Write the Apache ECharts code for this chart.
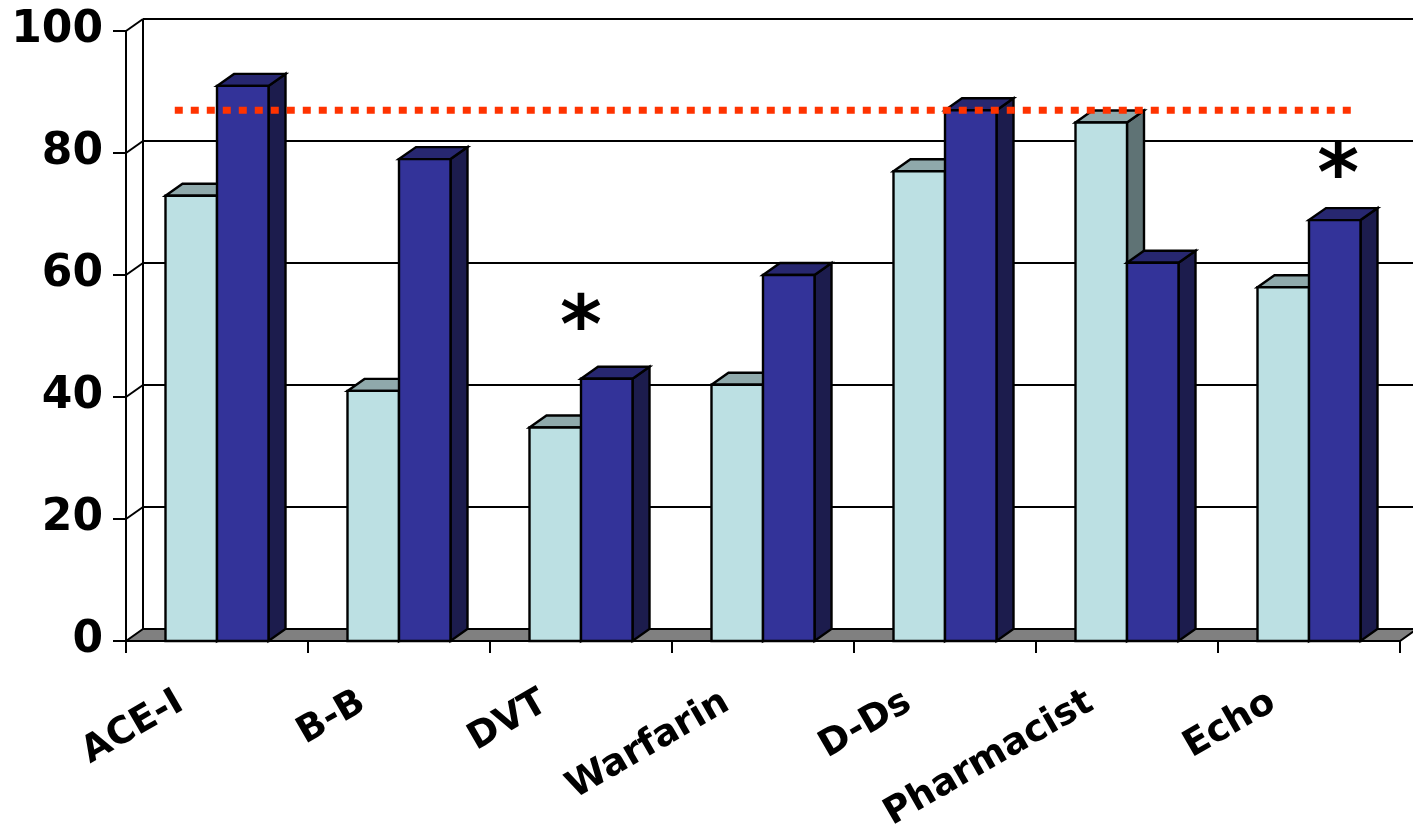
<!DOCTYPE html>
<html>
<head>
<meta charset="utf-8">
<script src="https://cdn.jsdelivr.net/npm/echarts@6/dist/echarts.min.js"></script>
<style>
  html, body { margin: 0; padding: 0; background: #ffffff; }
  #chart { width: 1413px; height: 825px; }
</style>
</head>
<body>
<div id="chart"></div>
<script>
// Categories along the bottom axis
const categories = ['ACE-I', 'B-B', 'DVT', 'Warfarin', 'D-Ds', 'Pharmacist', 'Echo'];
// Percentages, first (light) and second (dark) measurement
const before = [73, 41, 35, 42, 77, 85, 58];
const after = [91, 79, 43, 60, 87, 62, 69];
// Value-axis ticks
const yTicks = [0, 20, 40, 60, 80, 100];
// Dotted reference level
const targetLevel = 87;
// Significance marks: [position in category units, height in %]
const significance = [[2.5, 54], [6.66, 79]];

// Depth of the pseudo-3D projection (pixels)
const DX = 17, DY = 12;
const FONT = 'DejaVu Sans';

const chart = echarts.init(document.getElementById('chart'), null, { renderer: 'canvas' });

function barRenderer(side, colors) {
  return function (params, api) {
    const i = api.value(0);
    const v = api.value(1);
    const base = api.coord([i, 0]);
    const top = api.coord([i, v]);
    const band = api.size([1, 0])[0];
    const w = band * 0.283;
    const x0 = side === 0 ? base[0] - w : base[0];
    const x1 = x0 + w;
    const yb = base[1], yt = top[1];
    const edge = { stroke: '#000000', lineWidth: 2.4, lineJoin: 'miter' };
    return {
      type: 'group',
      children: [
        { type: 'polygon', shape: { points: [[x1, yt], [x1 + DX, yt - DY], [x1 + DX, yb - DY], [x1, yb]] },
          style: Object.assign({ fill: colors.side }, edge) },
        { type: 'polygon', shape: { points: [[x0, yt], [x0 + DX, yt - DY], [x1 + DX, yt - DY], [x1, yt]] },
          style: Object.assign({ fill: colors.top }, edge) },
        { type: 'rect', shape: { x: x0, y: yt, width: w, height: yb - yt },
          style: Object.assign({ fill: colors.front }, edge) }
      ]
    };
  };
}

// Back wall grid lines, left wall edge and floor
function wallRenderer(params, api) {
  const v = api.value(1);
  const cs = params.coordSys;
  const left = cs.x, right = cs.x + cs.width;
  const y = api.coord([0, v])[1];
  const y0 = api.coord([0, 0])[1];
  const line = { stroke: '#000000', lineWidth: 2 };
  const children = [];
  if (v === 0) {
    children.push({ type: 'polygon',
      shape: { points: [[left, y], [left + DX, y - DY], [right + DX, y - DY], [right, y]] },
      style: { fill: '#808080', stroke: '#000000', lineWidth: 2 } });
  } else {
    children.push({ type: 'line', shape: { x1: left, y1: y, x2: left + DX, y2: y - DY }, style: line });
    children.push({ type: 'line', shape: { x1: left + DX, y1: y - DY, x2: right + DX + 20, y2: y - DY }, style: line });
  }
  if (v === yTicks[yTicks.length - 1]) {
    children.push({ type: 'line', shape: { x1: left + DX, y1: y - DY, x2: left + DX, y2: y0 - DY }, style: line });
  }
  return { type: 'group', children: children };
}

function targetRenderer(params, api) {
  const v = api.value(1);
  const band = api.size([1, 0])[0];
  const a = api.coord([0, v]);
  const b = api.coord([categories.length - 1, v]);
  return {
    type: 'line',
    shape: { x1: a[0] - band * 0.232, y1: a[1], x2: b[0] + band * 0.232, y2: b[1] },
    style: { stroke: '#ff3300', lineWidth: 7, lineDash: [8, 8], lineCap: 'butt' }
  };
}

// Asterisk marks; the glyph sits high in its em box, so it is nudged down
function starRenderer(params, api) {
  const p = api.coord([api.value(0), api.value(1)]);
  const size = 80;
  return {
    type: 'text',
    x: p[0],
    y: p[1] + size * 0.25,
    style: {
      text: '*',
      fontFamily: FONT,
      fontWeight: 'bold',
      fontSize: size,
      fill: '#000000',
      align: 'center',
      verticalAlign: 'middle'
    }
  };
}

const option = {
  animation: false,
  backgroundColor: '#ffffff',
  grid: { left: 126, right: 13, top: 31, bottom: 184, containLabel: false, outerBoundsMode: 'none' },
  xAxis: [
    {
      type: 'category',
      data: categories,
      boundaryGap: true,
      axisLine: { show: true, lineStyle: { color: '#000000', width: 2 } },
      axisTick: { show: true, length: 12, lineStyle: { color: '#000000', width: 2 } },
      axisLabel: {
        rotate: 30,
        margin: 38,
        padding: [0, 42, 0, 0],
        fontFamily: FONT,
        fontWeight: 'bold',
        fontSize: 37,
        color: '#000000',
        interval: 0
      },
      splitLine: { show: false }
    },
    { type: 'value', min: 0, max: 7, show: false }
  ],
  yAxis: {
    type: 'value',
    min: 0,
    max: 100,
    interval: 20,
    axisLine: { show: true, lineStyle: { color: '#000000', width: 2 } },
    axisTick: { show: true, length: 13, lineStyle: { color: '#000000', width: 2 } },
    axisLabel: { margin: 23, fontFamily: FONT, fontWeight: 'bold', fontSize: 44, color: '#000000' },
    splitLine: { show: false }
  },
  series: [
    {
      type: 'custom', name: 'wall', z: 1, clip: false, silent: true,
      renderItem: wallRenderer,
      data: yTicks.map(v => [0, v])
    },
    {
      type: 'custom', name: 'Before', z: 3, clip: false,
      renderItem: barRenderer(0, { front: '#bce0e3', top: '#8fa9ab', side: '#5f7375' }),
      data: before.map((v, i) => [i, v])
    },
    {
      type: 'custom', name: 'After', z: 4, clip: false,
      renderItem: barRenderer(1, { front: '#333399', top: '#272770', side: '#1c1c4d' }),
      data: after.map((v, i) => [i, v])
    },
    {
      type: 'custom', name: 'Target', z: 5, clip: false, silent: true,
      renderItem: targetRenderer,
      data: [[0, targetLevel]]
    },
    {
      type: 'custom', name: 'Significance', z: 6, clip: false, silent: true,
      xAxisIndex: 1, yAxisIndex: 0,
      renderItem: starRenderer,
      data: significance
    }
  ]
};

chart.setOption(option);
</script>
</body>
</html>
